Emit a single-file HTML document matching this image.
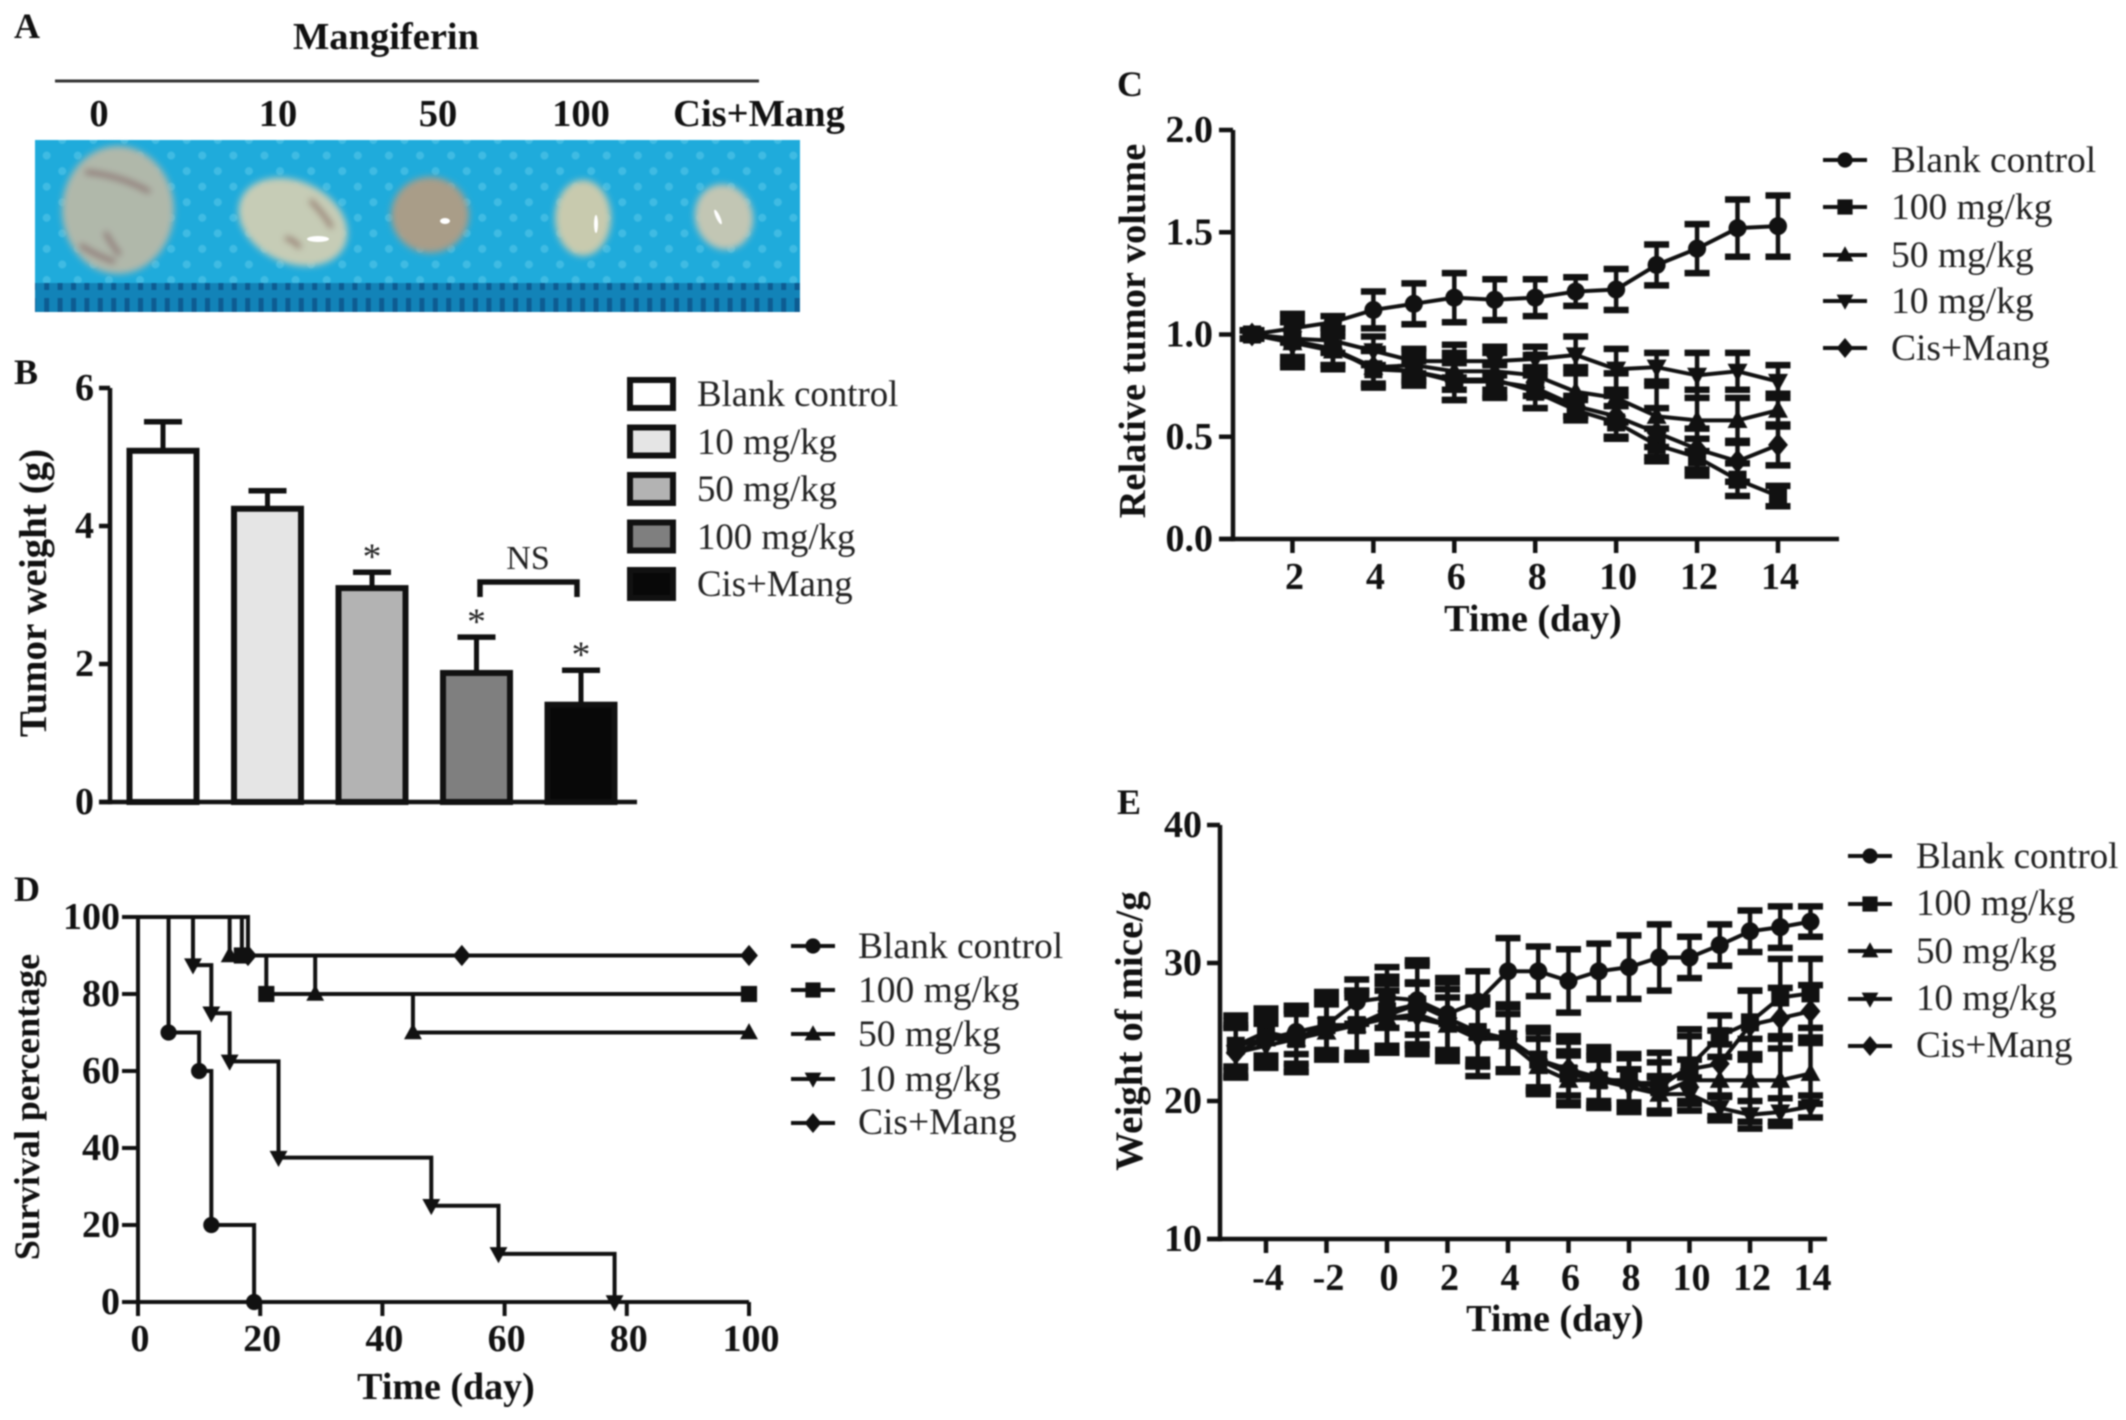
<!DOCTYPE html>
<html lang="en">
<head>
<meta charset="utf-8">
<title>Mangiferin tumor study figure</title>
<style>
html,body{margin:0;padding:0;background:#fff;width:2126px;height:1420px;overflow:hidden}
svg{display:block;filter:blur(0.9px)}
text{font-family:"Liberation Serif",serif;fill:#111}
.b{font-weight:700;font-size:38px}
.r{font-size:37.5px;fill:#222}
.rb{font-size:36.8px;fill:#222}
.re{font-size:37px;fill:#222}
.p{font-weight:700;font-size:36px}
.a{font-weight:700;font-size:38.5px}
.t{font-weight:700;font-size:39px}
.tc{font-weight:700;font-size:38.4px}
</style>
</head>
<body>
<svg id="fig" xmlns="http://www.w3.org/2000/svg" width="2126" height="1420" viewBox="0 0 2126 1420">
<defs>
<pattern id="dots" width="22" height="22" patternUnits="userSpaceOnUse" patternTransform="rotate(45)">
<rect width="22" height="22" fill="#1fabdb"/>
<circle cx="11" cy="11" r="4" fill="#3fbbe3"/>
</pattern>
<pattern id="ruler" width="13.4" height="29" patternUnits="userSpaceOnUse">
<rect width="13.4" height="29" fill="#1283b8"/>
<rect x="4" y="8" width="5" height="21" fill="#0d5c92"/>
</pattern>
<filter id="soft"><feGaussianBlur stdDeviation="3.5"/></filter>
</defs>

<g>
<text class="p" x="14" y="38">A</text>
<text class="a" x="386" y="49" text-anchor="middle">Mangiferin</text>
<line x1="55" y1="81" x2="759" y2="81" stroke="#333" stroke-width="3"/>
<text class="a" x="99" y="126" text-anchor="middle">0</text>
<text class="a" x="278" y="126" text-anchor="middle">10</text>
<text class="a" x="438" y="126" text-anchor="middle">50</text>
<text class="a" x="581" y="126" text-anchor="middle">100</text>
<text class="a" x="759" y="126" text-anchor="middle">Cis+Mang</text>
<g>
<rect x="35" y="140" width="765" height="172" fill="url(#dots)"/>
<rect x="35" y="283" width="765" height="29" fill="url(#ruler)"/>
<g filter="url(#soft)">
<ellipse cx="118" cy="210" rx="56" ry="64" fill="#b0b8aa"/>
<path d="M85 172 Q120 175 150 192 M105 232 Q112 245 120 255 M80 245 Q95 255 115 262" stroke="#8d6f70" stroke-width="5" fill="none"/>
<ellipse cx="293" cy="222" rx="57" ry="41" transform="rotate(25 293 222)" fill="#c6ccb6"/>
<path d="M310 200 Q325 215 332 228 M285 238 Q295 240 300 248" stroke="#94756a" stroke-width="5" fill="none"/>
<ellipse cx="430" cy="215" rx="39" ry="38" fill="#a99d88"/>
<ellipse cx="583" cy="218" rx="28" ry="38" fill="#c8caae"/>
<ellipse cx="724" cy="217" rx="29" ry="33" transform="rotate(-15 724 217)" fill="#c2c6b4"/>
</g>
<ellipse cx="318" cy="239" rx="11" ry="3" fill="#fff"/>
<ellipse cx="445" cy="221" rx="5" ry="3" fill="#fff"/>
<ellipse cx="596" cy="224" rx="2" ry="9" fill="#fff"/>
<ellipse cx="718" cy="217" rx="2" ry="8" transform="rotate(-25 718 217)" fill="#fff"/>
</g>
</g>

<g id="panelB">
<text class="p" x="14" y="384">B</text>
<text class="t" transform="translate(46 593) rotate(-90)" text-anchor="middle">Tumor weight (g)</text>
<text class="rb" x="697" y="406">Blank control</text>
<text class="rb" x="697" y="454">10 mg/kg</text>
<text class="rb" x="697" y="501">50 mg/kg</text>
<text class="rb" x="697" y="549">100 mg/kg</text>
<text class="rb" x="697" y="596">Cis+Mang</text>
<text class="r" x="528" y="569" text-anchor="middle" style="font-size:34px">NS</text>
<path d="M480 597 V582 H577 V597" fill="none" stroke="#111" stroke-width="5.5"/>
</g>

<g id="panelD">
<text class="p" x="14" y="901">D</text>
<text class="p" transform="translate(39 1107) rotate(-90)" text-anchor="middle">Survival percentage</text>
<text class="b" x="446" y="1399" text-anchor="middle">Time (day)</text>
<text class="r" x="858" y="958">Blank control</text>
<text class="r" x="858" y="1002">100 mg/kg</text>
<text class="r" x="858" y="1046">50 mg/kg</text>
<text class="r" x="858" y="1091">10 mg/kg</text>
<text class="r" x="858" y="1134">Cis+Mang</text>
</g>

<g id="panelC">
<text class="p" x="1117" y="96">C</text>
<text class="tc" transform="translate(1145 331) rotate(-90)" text-anchor="middle">Relative tumor volume</text>
<text class="b" x="1533" y="631" text-anchor="middle">Time (day)</text>
<text class="r" x="1891" y="172">Blank control</text>
<text class="r" x="1891" y="219">100 mg/kg</text>
<text class="r" x="1891" y="267">50 mg/kg</text>
<text class="r" x="1891" y="313">10 mg/kg</text>
<text class="r" x="1891" y="360">Cis+Mang</text>
</g>

<g id="panelE">
<text class="p" x="1117" y="814">E</text>
<text class="t" transform="translate(1142 1031) rotate(-90)" text-anchor="middle">Weight of mice/g</text>
<text class="b" x="1555" y="1331" text-anchor="middle">Time (day)</text>
<text class="re" x="1916" y="868">Blank control</text>
<text class="re" x="1916" y="915">100 mg/kg</text>
<text class="re" x="1916" y="963">50 mg/kg</text>
<text class="re" x="1916" y="1010">10 mg/kg</text>
<text class="re" x="1916" y="1057">Cis+Mang</text>
</g>
</svg>

<script>
// ---------- Panel B data ----------
const barCategories = ['Blank control', '10 mg/kg', '50 mg/kg', '100 mg/kg', 'Cis+Mang'];
const barValues = [5.09, 4.25, 3.10, 1.87, 1.41];
const barErrors = [0.42, 0.26, 0.23, 0.52, 0.50];
const barFills = ['#ffffff', '#e5e5e5', '#b3b3b3', '#7f7f7f', '#080808'];
const barStars = [false, false, true, true, true];
const barYTicks = [0, 2, 4, 6];

// ---------- Panel D data (Kaplan-Meier drop points) ----------
const survivalXTicks = [0, 20, 40, 60, 80, 100];
const survivalYTicks = [0, 20, 40, 60, 80, 100];
const survBlankDays = [5, 10, 12, 19];
const survBlankPct = [70, 60, 20, 0];
const surv100Days = [17, 21, 100];
const surv100Pct = [90, 80, 80];
const surv50Days = [15, 29, 45, 100];
const surv50Pct = [90, 80, 70, 70];
const surv10Days = [9, 12, 15, 23, 48, 59, 78];
const surv10Pct = [87.5, 75, 62.5, 37.5, 25, 12.5, 0];
const survCisDays = [18, 53, 100];
const survCisPct = [90, 90, 90];

// ---------- Panel C data ----------
const volumeDays = [1, 2, 3, 4, 5, 6, 7, 8, 9, 10, 11, 12, 13, 14];
const volumeXTicks = [2, 4, 6, 8, 10, 12, 14];
const volumeYTicks = ['0.0', '0.5', '1.0', '1.5', '2.0'];
const volBlank = [1.00, 1.03, 1.06, 1.12, 1.15, 1.18, 1.17, 1.18, 1.21, 1.22, 1.34, 1.42, 1.52, 1.53];
const volBlankErr = [0.02, 0.07, 0.03, 0.09, 0.10, 0.12, 0.10, 0.09, 0.07, 0.10, 0.10, 0.12, 0.14, 0.15];
const vol100 = [1.00, 0.97, 0.93, 0.83, 0.82, 0.78, 0.78, 0.72, 0.63, 0.57, 0.46, 0.40, 0.29, 0.21];
const vol100Err = [0.02, 0.13, 0.10, 0.09, 0.07, 0.10, 0.08, 0.08, 0.05, 0.08, 0.08, 0.09, 0.08, 0.05];
const vol50 = [1.00, 0.96, 0.92, 0.84, 0.85, 0.82, 0.82, 0.80, 0.72, 0.69, 0.60, 0.58, 0.58, 0.63];
const vol50Err = [0.02, 0.10, 0.07, 0.08, 0.07, 0.09, 0.09, 0.10, 0.12, 0.12, 0.15, 0.15, 0.11, 0.08];
const vol10 = [1.00, 0.98, 0.97, 0.92, 0.87, 0.87, 0.87, 0.88, 0.90, 0.83, 0.84, 0.80, 0.82, 0.77];
const vol10Err = [0.02, 0.09, 0.06, 0.07, 0.06, 0.08, 0.07, 0.06, 0.09, 0.10, 0.07, 0.11, 0.09, 0.08];
const volCis = [1.00, 0.96, 0.93, 0.84, 0.82, 0.77, 0.77, 0.74, 0.65, 0.60, 0.52, 0.44, 0.38, 0.46];
const volCisErr = [0.02, 0.10, 0.08, 0.09, 0.05, 0.09, 0.08, 0.10, 0.05, 0.10, 0.12, 0.10, 0.10, 0.10];

// ---------- Panel E data ----------
const weightDays = [-5, -4, -3, -2, -1, 0, 1, 2, 3, 4, 5, 6, 7, 8, 9, 10, 11, 12, 13, 14];
const weightXTicks = [-4, -2, 0, 2, 4, 6, 8, 10, 12, 14];
const weightYTicks = [10, 20, 30, 40];
const wtBlank = [24.0, 24.5, 25.0, 25.5, 27.2, 27.5, 27.3, 26.3, 27.2, 29.4, 29.4, 28.7, 29.4, 29.7, 30.4, 30.4, 31.3, 32.3, 32.6, 33.0];
const wtBlankErr = [1.5, 1.6, 1.6, 1.8, 1.6, 2.2, 2.5, 2.6, 2.2, 2.4, 1.8, 2.3, 2.0, 2.3, 2.4, 1.5, 1.5, 1.5, 1.5, 1.1];
const wt100 = [24.0, 25.0, 24.5, 25.5, 25.5, 26.5, 27.0, 26.0, 25.0, 24.5, 23.0, 22.0, 21.5, 21.5, 21.0, 22.5, 24.7, 25.7, 27.5, 27.8];
const wt100Err = [2.2, 1.7, 2.4, 2.1, 2.5, 2.5, 3.0, 2.9, 2.5, 2.3, 2.3, 2.3, 2.0, 1.9, 1.8, 2.7, 1.5, 2.3, 2.8, 2.5];
const wt50 = [24.0, 24.5, 24.5, 25.0, 25.5, 26.0, 26.3, 25.5, 25.0, 24.3, 22.5, 21.5, 21.5, 21.5, 20.5, 21.5, 21.5, 21.5, 21.5, 22.0];
const wt50Err = [1.8, 1.5, 1.8, 2.0, 2.0, 2.0, 2.2, 2.0, 2.0, 2.0, 2.0, 1.8, 1.8, 1.6, 1.3, 1.5, 2.6, 3.0, 3.0, 2.2];
const wt10 = [23.5, 24.0, 24.5, 25.5, 25.5, 26.0, 26.0, 25.5, 24.5, 24.5, 23.0, 22.0, 21.5, 21.0, 20.5, 20.5, 19.5, 19.0, 19.2, 19.6];
const wt10Err = [1.8, 1.6, 2.4, 2.4, 2.5, 2.5, 2.6, 2.6, 2.7, 2.4, 2.0, 1.6, 1.5, 1.3, 1.2, 1.2, 0.9, 1.0, 1.0, 0.8];
const wtCis = [23.5, 24.5, 24.5, 25.2, 25.5, 26.2, 27.0, 26.0, 25.0, 24.5, 23.0, 22.3, 21.7, 21.3, 21.3, 22.3, 22.7, 25.5, 26.0, 26.5];
const wtCisErr = [1.8, 1.8, 2.0, 2.0, 2.3, 2.6, 3.2, 2.6, 2.4, 2.3, 2.2, 2.4, 2.2, 2.1, 2.2, 2.4, 2.4, 2.5, 2.2, 1.9];

const NS = 'http://www.w3.org/2000/svg';
const INK = '#111';

function make(parent, tag, attrs, text) {
  const el = document.createElementNS(NS, tag);
  for (const k in attrs) el.setAttribute(k, attrs[k]);
  if (text !== undefined) el.textContent = text;
  parent.appendChild(el);
  return el;
}

function segment(parent, x1, y1, x2, y2, width) {
  return make(parent, 'line', { x1: x1, y1: y1, x2: x2, y2: y2, stroke: INK, 'stroke-width': width });
}

function drawMarker(parent, kind, x, y, s) {
  let el;
  if (kind === 'circle') {
    el = make(parent, 'circle', { cx: x, cy: y, r: s * 0.95, fill: INK });
  } else if (kind === 'square') {
    el = make(parent, 'rect', { x: x - s * 0.95, y: y - s * 0.95, width: s * 1.9, height: s * 1.9, fill: INK });
  } else if (kind === 'up') {
    el = make(parent, 'polygon', { points: [x, y - s * 1.1, x + s * 1.05, y + s * 0.8, x - s * 1.05, y + s * 0.8].join(','), fill: INK });
  } else if (kind === 'down') {
    el = make(parent, 'polygon', { points: [x, y + s * 1.1, x + s * 1.05, y - s * 0.8, x - s * 1.05, y - s * 0.8].join(','), fill: INK });
  } else {
    el = make(parent, 'polygon', { points: [x, y - s * 1.25, x + s * 1.05, y, x, y + s * 1.25, x - s * 1.05, y].join(','), fill: INK });
  }
  
  
  return el;
}

function drawAxes(parent, opt) {
  const xAxis = segment(parent, opt.xStart, opt.y0, opt.xEnd, opt.y0, opt.w);
  
  
  const yAxis = segment(parent, opt.x0, opt.yTop, opt.x0, opt.y0 + opt.w / 2, opt.w);
  
  
  opt.yTicks.forEach(function (t) {
    const y = opt.sy(Number(t));
    const tick = segment(parent, opt.yTickX, y, opt.x0, y, opt.w);
    
    
    const label = make(parent, 'text', { x: opt.yLabelX, y: y + 12, 'text-anchor': 'end', class: 'b' }, String(t));
    
    
  });
  (opt.xTicks || []).forEach(function (t) {
    const x = opt.sx(t);
    const tick = segment(parent, x, opt.y0, x, opt.y0 + 14, opt.w);
    
    
    const label = make(parent, 'text', { x: x + 2, y: opt.xLabelY, 'text-anchor': 'middle', class: 'b' }, String(t));
    
    
  });
}

function drawLegendKeys(parent, kinds, xc, ys, half, size) {
  kinds.forEach(function (kind, i) {
    const key = segment(parent, xc - half, ys[i], xc + half, ys[i], 4);
    
    
    drawMarker(parent, kind, xc, ys[i], size);
  });
}

function drawErrorSeries(parent, days, vals, errs, kind, sx, sy) {
  const pts = days.map(function (d, i) { return sx(d) + ',' + sy(vals[i]); }).join(' ');
  const line = make(parent, 'polyline', { points: pts, fill: 'none', stroke: INK, 'stroke-width': 4 });
  
  
  days.forEach(function (d, i) {
    const x = sx(d);
    const top = sy(vals[i] + errs[i]);
    const bot = sy(vals[i] - errs[i]);
    const stem = segment(parent, x, top, x, bot, 4.5);
    
    
    const capTop = segment(parent, x - 12.5, top, x + 12.5, top, 6.5);
    
    
    const capBot = segment(parent, x - 12.5, bot, x + 12.5, bot, 6.5);
    
    
    drawMarker(parent, kind, x, sy(vals[i]), 9.5);
  });
}

function drawSurvival(parent, days, pcts, kind, sx, sy) {
  let d = 'M' + sx(0) + ' ' + sy(100);
  days.forEach(function (day, i) {
    d += ' H' + sx(day) + ' V' + sy(pcts[i]);
  });
  const path = make(parent, 'path', { d: d, fill: 'none', stroke: INK, 'stroke-width': 4 });
  
  
  days.forEach(function (day, i) {
    drawMarker(parent, kind, sx(day), sy(pcts[i]), 8.5);
  });
}

// ---------- Panel B ----------
(function () {
  const g = document.getElementById('panelB');
  const sy = function (v) { return 802 - v * (802 - 388) / 6; };
  const bx = function (i) { return 163 + i * 104.5; };
  const y0 = sy(0);
  barCategories.forEach(function (name, i) {
    const top = sy(barValues[i]);
    const cap = sy(barValues[i] + barErrors[i]);
    const stem = segment(g, bx(i), top, bx(i), cap, 5);
    
    
    const capLine = segment(g, bx(i) - 19, cap, bx(i) + 19, cap, 5.5);
    
    
    const bar = make(g, 'rect', { x: bx(i) - 33.5, y: top, width: 67, height: y0 - top, fill: barFills[i], stroke: INK, 'stroke-width': 6 });
    
    
    if (barStars[i]) {
      const star = make(g, 'text', { x: bx(i), y: cap - 3, 'text-anchor': 'middle', class: 'r' }, '*');
      
      
    }
    const keyY = 394 + i * 47.5;
    const swatch = make(g, 'rect', { x: 630, y: keyY - 14, width: 43, height: 28, fill: barFills[i], stroke: INK, 'stroke-width': 6 });
    
    
  });
  drawAxes(g, { x0: 110, y0: y0, yTop: sy(6), xStart: 99, xEnd: 637, w: 4.5, yTicks: barYTicks, yTickX: 99, yLabelX: 94, sy: sy });
})();

// ---------- Panel D ----------
(function () {
  const g = document.getElementById('panelD');
  const sx = function (v) { return 138 + v * 6.11; };
  const sy = function (v) { return 1302 - v * 3.85; };
  drawSurvival(g, survBlankDays, survBlankPct, 'circle', sx, sy);
  drawSurvival(g, surv100Days, surv100Pct, 'square', sx, sy);
  drawSurvival(g, surv50Days, surv50Pct, 'up', sx, sy);
  drawSurvival(g, surv10Days, surv10Pct, 'down', sx, sy);
  drawSurvival(g, survCisDays, survCisPct, 'diamond', sx, sy);
  drawAxes(g, { x0: sx(0), y0: sy(0), yTop: sy(100), xStart: sx(0), xEnd: sx(100), w: 4, yTicks: survivalYTicks, yTickX: 122, yLabelX: 120, sy: sy, xTicks: survivalXTicks, sx: sx, xLabelY: 1351 });
  drawLegendKeys(g, ['circle', 'square', 'up', 'down', 'diamond'], 813, [946, 990, 1034, 1079, 1123], 22, 8);
})();

// ---------- Panel C ----------
(function () {
  const g = document.getElementById('panelC');
  const sx = function (v) { return 1252 + (v - 1) * 40.46; };
  const sy = function (v) { return 539 - v * 204.5; };
  drawAxes(g, { x0: 1233, y0: sy(0), yTop: sy(2), xStart: 1219, xEnd: 1839, w: 4.5, yTicks: volumeYTicks, yTickX: 1219, yLabelX: 1213, sy: sy, xTicks: volumeXTicks, sx: sx, xLabelY: 589 });
  drawErrorSeries(g, volumeDays, volBlank, volBlankErr, 'circle', sx, sy);
  drawErrorSeries(g, volumeDays, vol100, vol100Err, 'square', sx, sy);
  drawErrorSeries(g, volumeDays, vol50, vol50Err, 'up', sx, sy);
  drawErrorSeries(g, volumeDays, vol10, vol10Err, 'down', sx, sy);
  drawErrorSeries(g, volumeDays, volCis, volCisErr, 'diamond', sx, sy);
  drawLegendKeys(g, ['circle', 'square', 'up', 'down', 'diamond'], 1845, [160, 207, 255, 301, 348], 22, 8);
})();

// ---------- Panel E ----------
(function () {
  const g = document.getElementById('panelE');
  const sx = function (v) { return 1387 + v * 30.25; };
  const sy = function (v) { return 1239 - (v - 10) * 13.8; };
  drawAxes(g, { x0: 1220, y0: sy(10), yTop: sy(40), xStart: 1207, xEnd: 1827, w: 4.5, yTicks: weightYTicks, yTickX: 1207, yLabelX: 1202, sy: sy, xTicks: weightXTicks, sx: sx, xLabelY: 1290 });
  drawErrorSeries(g, weightDays, wtBlank, wtBlankErr, 'circle', sx, sy);
  drawErrorSeries(g, weightDays, wt100, wt100Err, 'square', sx, sy);
  drawErrorSeries(g, weightDays, wt50, wt50Err, 'up', sx, sy);
  drawErrorSeries(g, weightDays, wt10, wt10Err, 'down', sx, sy);
  drawErrorSeries(g, weightDays, wtCis, wtCisErr, 'diamond', sx, sy);
  drawLegendKeys(g, ['circle', 'square', 'up', 'down', 'diamond'], 1870, [856, 904, 951, 999, 1046], 22, 8);
})();
</script>
</body>
</html>
